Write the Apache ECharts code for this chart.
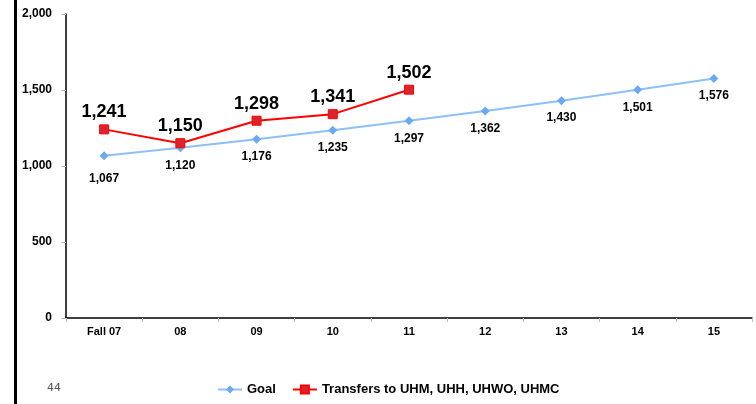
<!DOCTYPE html>
<html><head><meta charset="utf-8">
<script src="https://cdn.jsdelivr.net/npm/echarts@6/dist/echarts.min.js"></script>
<style>html,body{margin:0;padding:0;background:#fff}#c{width:756px;height:404px}</style>
</head><body><div id="c"></div>
<script>
var categories = ['Fall 07','08','09','10','11','12','13','14','15'];
var goal = [1067,1120,1176,1235,1297,1362,1430,1501,1576];
var transfers = [1241,1150,1298,1341,1502];
var yTicks = [0,500,1000,1500,2000];
var FONT = '"Liberation Sans", Arial, sans-serif';
var fmt = function(p){return p.value.toLocaleString('en-US');};
var goalData = goal.map(function(v,i){
  return i===0 ? {value:v,label:{distance:12}} : v;
});
var chart = echarts.init(document.getElementById('c'), null, {renderer:'canvas'});
chart.setOption({
  animation:false,
  backgroundColor:'#fff',
  textStyle:{fontFamily:FONT},
  grid:{left:66,right:4,top:14,bottom:86,containLabel:false},
  xAxis:{type:'category',data:categories,boundaryGap:true,
    axisLine:{lineStyle:{color:'#000',width:1.5}},
    axisTick:{show:true,inside:false,length:4,lineStyle:{color:'#bbb'}},
    axisLabel:{color:'#000',fontWeight:'bold',fontSize:11,fontFamily:FONT,margin:8}},
  yAxis:{type:'value',min:yTicks[0],max:yTicks[yTicks.length-1],interval:500,
    splitLine:{show:false},
    axisLine:{show:true,lineStyle:{color:'#000',width:1.5}},
    axisTick:{show:true,length:5,lineStyle:{color:'#bbb'}},
    axisLabel:{color:'#000',fontWeight:'bold',fontSize:12,fontFamily:FONT,margin:14,
      formatter:function(v){return v.toLocaleString('en-US');}}},
  legend:{bottom:3,left:212,itemWidth:24,itemHeight:10,itemGap:16,
    textStyle:{color:'#000',fontWeight:'bold',fontSize:13,fontFamily:FONT},
    data:['Goal','Transfers to UHM, UHH, UHWO, UHMC']},
  series:[
    {name:'Goal',type:'line',data:goalData,symbol:'diamond',symbolSize:9,
      lineStyle:{color:'#8cc0f7',width:2},itemStyle:{color:'#6aaaf2'},
      label:{show:true,position:'bottom',distance:7,color:'#000',fontWeight:'bold',fontSize:12,fontFamily:FONT,
        formatter:fmt}},
    {name:'Transfers to UHM, UHH, UHWO, UHMC',type:'line',data:transfers,symbol:'rect',symbolSize:9,
      lineStyle:{color:'#ff0000',width:2},itemStyle:{color:'#d9262e',borderColor:'#ff0000',borderWidth:1},
      label:{show:true,position:'top',distance:3,color:'#000',fontWeight:'bold',fontSize:18,fontFamily:FONT,
        formatter:fmt}}
  ],
  graphic:[
    {type:'rect',shape:{x:14,y:0,width:3,height:404},style:{fill:'#000'}},
    {type:'text',left:47,top:383,style:{text:'44',fill:'#555',font:'11px "DejaVu Sans", sans-serif'}}
  ]
});
</script></body></html>
